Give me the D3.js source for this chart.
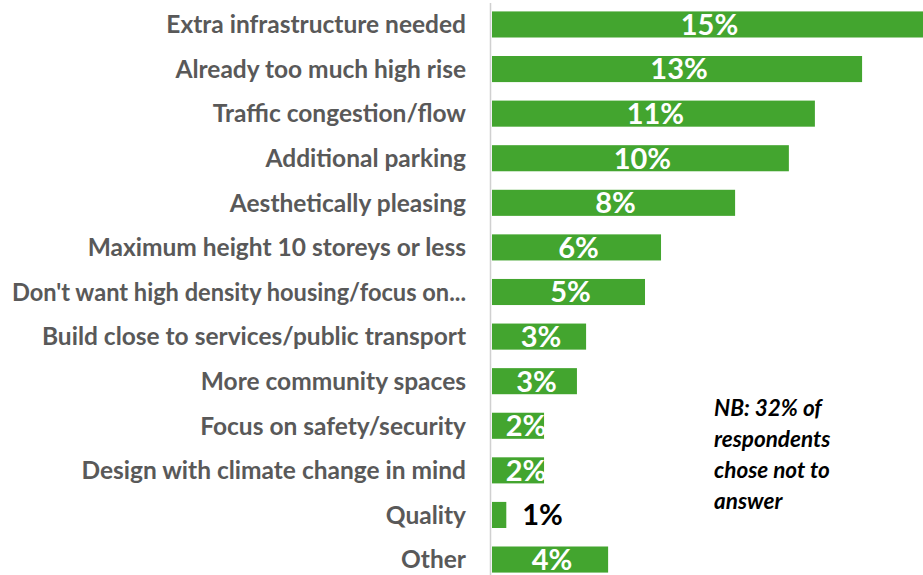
<!DOCTYPE html>
<html>
<head>
<meta charset="utf-8">
<script src="https://cdn.jsdelivr.net/npm/d3@7"></script>
<style>
  body { margin: 0; background: #fff; }
  svg { display: block; }
</style>
</head>
<body>
<svg id="chart" width="923" height="575"></svg>
<script>
// categories, top to bottom
const categories = [
	"Extra infrastructure needed",
	"Already too much high rise",
	"Traffic congestion/flow",
	"Additional parking",
	"Aesthetically pleasing",
	"Maximum height 10 storeys or less",
	"Don't want high density housing/focus on...",
	"Build close to services/public transport",
	"More community spaces",
	"Focus on safety/security",
	"Design with climate change in mind",
	"Quality",
	"Other"
];
// share of respondents (%)
const values = [15.1, 12.94, 11.29, 10.38, 8.5, 5.91, 5.35, 3.29, 2.97, 1.82, 1.82, 0.5, 4.06];
// the rounded labels printed on the bars
const valueLabels = ["15%", "13%", "11%", "10%", "8%", "6%", "5%", "3%", "3%", "2%", "2%", "1%", "4%"];
const noteLines = ["NB: 32% of", "respondents", "chose not to", "answer"];

const svg = d3.select('#chart');
const green = '#43a52f';
const font = 'Lato, "Open Sans", sans-serif';

const x = d3.scaleLinear()
	.domain([0, 15.07])
	.range([492, 923]);

const y = d3.scaleBand()
	.domain(categories)
	.range([2.5, 581.5])
	.paddingInner(0.415)
	.paddingOuter(0.2);

// axis line
svg.append('line')
	.attr('x1', 490.5).attr('x2', 490.5)
	.attr('y1', 3).attr('y2', 575)
	.attr('stroke', '#d0d0d0')
	.attr('stroke-width', 1.5);

const data = categories.map((c, i) => ({cat: c, v: values[i], lab: valueLabels[i]}));

svg.append('g')
	.selectAll('rect')
	.data(data)
	.enter()
	.append('rect')
		.attr('x', x(0))
		.attr('y', d => y(d.cat))
		.attr('width', d => Math.min(x(d.v), 923) - x(0))
		.attr('height', y.bandwidth())
		.attr('fill', green);

// category labels
svg.append('g')
	.selectAll('text')
	.data(data)
	.enter()
	.append('text')
		.attr('x', 466)
		.attr('y', d => y(d.cat) + y.bandwidth() / 2)
		.attr('dy', '0.36em')
		.attr('text-anchor', 'end')
		.attr('fill', '#595959')
		.style('font-family', font)
		.style('font-weight', 'bold')
		.style('font-size', '24.5px')
		.text(d => d.cat)
		.each(function() {
			// squeeze labels that would run off the left edge
			if (this.getComputedTextLength() > 454) {
				d3.select(this).attr('textLength', 454).attr('lengthAdjust', 'spacingAndGlyphs');
			}
		});

// value labels: inside the bar, except when the bar is too short
svg.append('g')
	.selectAll('text')
	.data(data)
	.enter()
	.append('text')
		.attr('x', d => d.v < 1 ? x(d.v) + 16 : (x(0) + Math.min(x(d.v), 923)) / 2 + (d.v < 2.5 ? 8 : 2))
		.attr('y', d => y(d.cat) + y.bandwidth() / 2)
		.attr('dy', '0.36em')
		.attr('text-anchor', d => d.v < 1 ? 'start' : 'middle')
		.attr('fill', d => d.v < 1 ? '#000' : '#fff')
		.style('font-family', font)
		.style('font-weight', 'bold')
		.style('font-size', '29px')
		.text(d => d.lab);

// note
svg.append('g')
	.selectAll('text')
	.data(noteLines)
	.enter()
	.append('text')
		.attr('x', 714)
		.attr('y', (d, i) => 416 + i * 31)
		.attr('fill', '#000')
		.style('font-family', font)
		.style('font-weight', 'bold')
		.style('font-style', 'italic')
		.style('font-size', '22.5px')
		.text(d => d);
</script>
</body>
</html>
